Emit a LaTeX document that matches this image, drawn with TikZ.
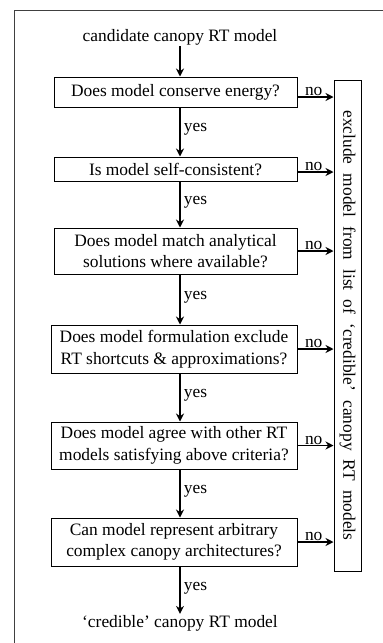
\documentclass[tikz,border=0pt]{standalone}
\usepackage{fontspec}
\setmainfont{Liberation Serif}
\usetikzlibrary{arrows.meta,calc}
\begin{document}
\begin{tikzpicture}[x=1pt,y=1pt,
  q/.style={draw, line width=1pt, align=center, inner sep=0pt, font=\fontsize{17.4}{21.5}\selectfont},
  arr/.style={line width=1.7pt, -{Stealth[length=8pt,width=8pt]}},
  lbl/.style={font=\fontsize{17.4}{21.5}\selectfont, inner sep=1pt},
  yeslbl/.style={lbl, right, pos=0.45, xshift=2pt},
  nolbl/.style={lbl, above, pos=0.45, inner sep=0pt}]
\useasboundingbox (0,0) rectangle (383,-643);
\draw[line width=1pt, black!75] (383,-10) -- (14,-10) -- (14,-643);
\node[lbl] (st) at (180,-37) {candidate canopy RT model};
\node[q, minimum width=243pt, minimum height=30pt] (b1) at (175.5,-92) {Does model conserve energy?};
\node[q, minimum width=243pt, minimum height=24pt] (b2) at (175.5,-169) {Is model self-consistent?};
\node[q, minimum width=243pt, minimum height=46pt] (b3) at (175.5,-251) {Does model match analytical\\solutions where available?};
\node[q, minimum width=246pt, minimum height=48pt] (b4) at (174,-349) {Does model formulation exclude\\RT shortcuts \& approximations?};
\node[q, minimum width=246pt, minimum height=47pt] (b5) at (174,-445.5) {Does model agree with other RT\\models satisfying above criteria?};
\node[q, minimum width=246pt, minimum height=48pt] (b6) at (174,-542) {Can model represent arbitrary\\complex canopy architectures?};
\node[lbl] (en) at (180,-623) {‘credible’ canopy RT model};
\node[draw, line width=1pt, minimum width=27pt, minimum height=491pt, inner sep=0pt] (rb) at (347.5,-325.5) {};
\node[lbl, rotate=-90] (rbt) at (rb.center) {\makebox[430pt][s]{exclude model from list of ‘credible’ canopy RT models}};
% vertical arrows
\draw[arr] (st.south) -- (st.south |- b1.north);
\draw[arr] (b1.south -| st) -- node[yeslbl] {yes} (b2.north -| st);
\draw[arr] (b2.south -| st) -- node[yeslbl] {yes} (b3.north -| st);
\draw[arr] (b3.south -| st) -- node[yeslbl] {yes} (b4.north -| st);
\draw[arr] (b4.south -| st) -- node[yeslbl] {yes} (b5.north -| st);
\draw[arr] (b5.south -| st) -- node[yeslbl] {yes} (b6.north -| st);
\draw[arr] (b6.south -| st) -- node[yeslbl] {yes} (en.north);
% no arrows
\coordinate (n1) at ($(b1.east)+(0,-5)$);
\coordinate (n2) at ($(b2.east)+(0,-3)$);
\draw[arr] (n1) -- node[nolbl] {no} (n1 -| rb.west);
\draw[arr] (n2) -- node[nolbl] {no} (n2 -| rb.west);
\draw[arr] (b3.east) -- node[nolbl] {no} (b3.east -| rb.west);
\draw[arr] (b4.east) -- node[nolbl] {no} (b4.east -| rb.west);
\draw[arr] (b5.east) -- node[nolbl] {no} (b5.east -| rb.west);
\draw[arr] (b6.east) -- node[nolbl] {no} (b6.east -| rb.west);
\end{tikzpicture}
\end{document}
